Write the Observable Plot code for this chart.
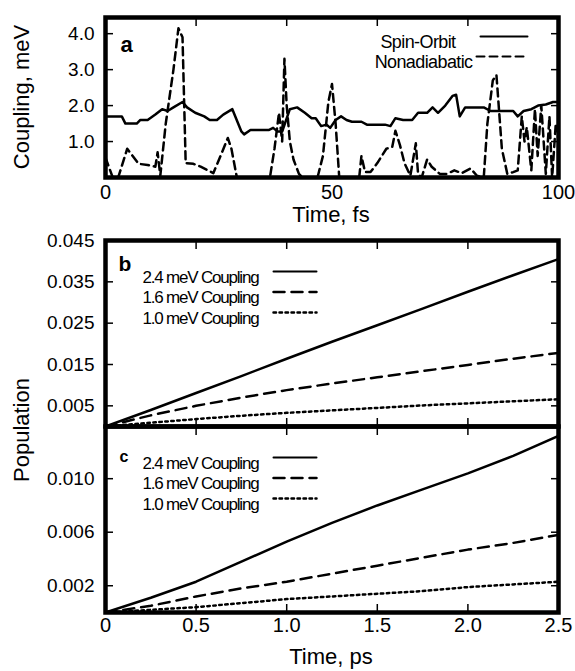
<!DOCTYPE html>
<html><head><meta charset="utf-8">
<script src="https://cdn.jsdelivr.net/npm/d3@7"></script>
<script src="https://cdn.jsdelivr.net/npm/@observablehq/plot@0.6"></script>
<style>
body{margin:0;background:#fff;}
#fig{position:relative;width:575px;height:671px;font-family:"Liberation Sans",Arial,sans-serif;color:#000;background:#fff;overflow:hidden;}
#fig svg{position:absolute;left:0;}
.t{position:absolute;white-space:nowrap;transform:translate(-50%,-50%);font-size:22px;}
.r{transform:translate(-50%,-50%) rotate(-90deg);}
</style></head><body><div id="fig"></div><script>
// ---- Panel a: couplings vs time (fs)
const soTime = [0,3.6,4.4,6.9,7.7,9.3,11,12.5,13.7,15,17,18,19.8,21.8,23,24.6,26,28,30,30.6,32,36,37,38,39,40.7,42.3,44,45.5,46.4,47.6,48.8,49.6,50.8,52,53.2,54.4,56.5,57.7,61.7,62.9,64,65.7,67.7,69,71,72.2,73.4,75,76.6,77.4,78.2,79.4,81,83.5,85,87.5,90,91,92.3,94,95.5,97.2,98.8,100];
const soValue = [1.7,1.7,1.5,1.5,1.6,1.6,1.75,1.9,1.85,1.95,2.1,1.95,1.8,1.7,1.6,1.6,1.75,1.9,1.28,1.2,1.32,1.32,1.38,1.28,1.28,1.9,1.95,1.8,1.65,1.65,1.43,1.47,1.38,1.6,1.7,1.6,1.55,1.55,1.47,1.47,1.43,1.65,1.6,1.6,1.8,1.8,1.95,1.8,2.0,2.27,2.3,1.7,1.95,1.95,1.95,1.85,1.85,1.85,1.7,1.85,1.9,2.0,2.03,2.1,2.1];
const naTime = [0,1.6,2.8,4.8,6,7.3,9.3,11,11.5,12.1,13.3,15,16.1,17,17.7,19.4,21,22.6,23.8,25.4,27,27.8,29,36.3,37.3,38.3,39,39.5,40,40.7,41.5,42.7,43.5,46.8,48,49.2,50,50.8,51.6,56,56.5,57.3,58.5,60,62,63.3,64,65,66,67.3,68.5,69,69.8,71,72,73.8,75.4,77,78.6,80.6,82,83.5,84.3,85.5,86.3,87.5,88.7,90,91,91.9,92.5,93,94,94.8,95.4,96.2,97.2,98,98.6,99.4,100];
const naValue = [0.55,0,0,0.8,0.6,0.38,0.35,0.3,0.7,0.05,1.5,3.0,4.15,3.9,0.4,0.38,0.3,0.2,0.12,0.6,1.1,0.8,0,0,0.8,1.8,1.0,3.3,2.0,1.0,0.5,0.1,0,0,0.6,2.1,2.6,1.5,0,0,0.6,0.15,0.15,0.4,0.8,0.85,1.3,0.9,0.4,0.05,0.95,0.1,0,0.5,0.3,0.1,0.1,0.2,0.12,0.25,0.05,0,1.5,2.7,2.85,0.8,0.1,0.15,0.2,1.7,1.0,1.4,0.2,1.9,0.6,2.0,0.1,1.7,0,1.5,1.2];
const aLegend = ["Spin-Orbit", "Nonadiabatic"];
const aYTicks = [1, 2, 3, 4];
const aXLabels = [0, 50, 100];
const aXTopTicks = [20, 40, 60, 80];

// ---- Panels b and c: population vs time (ps)
const timePs = [0,0.25,0.5,0.75,1.0,1.25,1.5,1.75,2.0,2.25,2.5];
const b24 = [0,0.0040,0.0081,0.0122,0.0164,0.0205,0.0245,0.0285,0.0326,0.0366,0.0405];
const b16 = [0,0.0027,0.0050,0.0070,0.0088,0.0104,0.0119,0.0134,0.0149,0.0164,0.0178];
const b10 = [0,0.0009,0.0018,0.0026,0.0033,0.0039,0.0045,0.0051,0.0056,0.0061,0.0066];
const c24 = [0,0.0011,0.0023,0.0038,0.0053,0.0067,0.0080,0.0092,0.0104,0.0117,0.0132];
const c16 = [0,0.0005,0.0012,0.0018,0.0023,0.0029,0.0035,0.0041,0.0047,0.0052,0.0058];
const c10 = [0,0.0002,0.0004,0.0007,0.0010,0.0012,0.0014,0.0016,0.0019,0.0021,0.0023];
const bcLegend = ["2.4 meV Coupling", "1.6 meV Coupling", "1.0 meV Coupling"];
const bYTicks = [0.005, 0.015, 0.025, 0.035, 0.045];
const cYTicks = [0.002, 0.006, 0.010];
const psTicks = [0, 0.5, 1.0, 1.5, 2.0, 2.5];
const psInner = [0.5, 1.0, 1.5, 2.0];

const FONT = "Liberation Sans, Arial, Helvetica, sans-serif";
const SOLID = null, DASH_A = "8,5", DASH = "11,7", DOT = "2.5,3.5";
const hline = {draw(ctx, l) { ctx.moveTo(0, 0); ctx.lineTo(l, 0); }};
const noText = () => "";

function toRows(xs, ys) { return xs.map((x, i) => ({x, y: ys[i]})); }

function frameTicks(xInner, yTicks, {bottom = true} = {}) {
  const m = [
    Plot.axisY(yTicks, {anchor: "left", tickSize: 8, dx: 8, tickFormat: noText, label: null, strokeWidth: 1.5}),
    Plot.axisY(yTicks, {anchor: "right", tickSize: 8, dx: -8, tickFormat: noText, label: null, strokeWidth: 1.5}),
    Plot.axisX(xInner, {anchor: "top", tickSize: 8, dy: 8, tickFormat: noText, label: null, strokeWidth: 1.5})
  ];
  if (bottom) m.push(Plot.axisX(xInner, {anchor: "bottom", tickSize: 8, dy: -8, tickFormat: noText, label: null, strokeWidth: 1.5}));
  return m;
}

function legend(labels, dashes, widths, rows, opt) {
  const marks = [];
  labels.forEach((lab, i) => {
    const r = rows[i];
    marks.push(Plot.text([lab], {text: d => d, frameAnchor: opt.anchor, dx: r.textDx, dy: opt.dy0 + i * opt.step,
      textAnchor: opt.textAnchor, fontSize: opt.fontSize, fill: "black"}));
    marks.push(Plot.vector([lab], {frameAnchor: opt.anchor, dx: r.lineDx, dy: opt.dy0 + i * opt.step + 1,
      length: r.lineLen, shape: hline, anchor: "start", stroke: "black", strokeWidth: widths[i],
      strokeDasharray: dashes[i]}));
  });
  return marks;
}

const fig = document.getElementById("fig");
function place(svg, top) { svg.style.top = top + "px"; fig.appendChild(svg); }
function tighten(svg, size, spacing) {
  svg.querySelectorAll(`g[font-size="${size}"]`).forEach(g => g.setAttribute("letter-spacing", spacing));
}
function htmlText(txt, x, y, rotate) {
  const d = document.createElement("div");
  d.className = "t" + (rotate ? " r" : "");
  d.textContent = txt; d.style.left = x + "px"; d.style.top = y + "px";
  fig.appendChild(d);
}

// Panel a
const plotA = Plot.plot({
  width: 575, height: 200,
  marginLeft: 105, marginRight: 17, marginTop: 17, marginBottom: 23,
  style: {fontFamily: FONT, fontSize: "19px", background: "transparent", overflow: "visible", color: "black"},
  x: {domain: [0, 100], label: null},
  y: {domain: [0, 4.45], label: null},
  marks: [
    Plot.line(toRows(soTime, soValue), {x: "x", y: "y", stroke: "black", strokeWidth: 2.5, clip: true}),
    Plot.line(toRows(naTime, naValue), {x: "x", y: "y", stroke: "black", strokeWidth: 2.5, strokeDasharray: DASH_A, clip: true}),
    Plot.axisY(aYTicks, {anchor: "left", tickSize: 0, tickPadding: 11, tickFormat: d3.format(".1f"), label: null, fontSize: 19}),
    Plot.axisX(aXLabels, {anchor: "bottom", tickSize: 0, tickPadding: 7, tickFormat: d => String(d), label: null, fontSize: 20}),
    ...frameTicks(aXTopTicks, aYTicks, {bottom: false}),
    ...legend(aLegend, [SOLID, DASH_A], [2, 2],
      [{textDx: -103, lineDx: -78, lineLen: 47}, {textDx: -86, lineDx: -82, lineLen: 51}],
      {anchor: "top-right", dy0: 18, step: 20, textAnchor: "end", fontSize: 18}),
    Plot.text(["a"], {text: d => d, frameAnchor: "top-left", dx: 15, dy: 19, fontSize: 22, fontWeight: "bold"}),
    Plot.frame({stroke: "black", strokeWidth: 4.5})
  ]
});
tighten(plotA, 18, "-0.6");
place(plotA, 0);

function popPanel(series, yDomain, yTicks, letter, letterOpt, topMargin, bottomMargin, height, showX) {
  const dashes = [SOLID, DASH, DOT];
  const widths = [2.5, 2.5, 2.5];
  const marks = series.map((s, i) => Plot.line(toRows(timePs, s), {x: "x", y: "y", stroke: "black",
    strokeWidth: widths[i], strokeDasharray: dashes[i], clip: true}));
  marks.push(Plot.axisY(yTicks, {anchor: "left", tickSize: 0, tickPadding: 11, tickFormat: d3.format(".3f"), label: null, fontSize: 19}));
  if (showX) marks.push(Plot.axisX(psTicks, {anchor: "bottom", tickSize: 0, tickPadding: 5,
    tickFormat: d => d === 0 ? "0" : d.toFixed(1), label: null, fontSize: 20}));
  marks.push(...frameTicks(psInner, yTicks));
  const row = {textDx: 37, lineDx: 168, lineLen: 43};
  marks.push(...legend(bcLegend, dashes, [2, 2.5, 2.5], [row, row, row],
    {anchor: "top-left", dy0: 30, step: 20.5, textAnchor: "start", fontSize: 17}));
  marks.push(Plot.text([letter], {text: d => d, frameAnchor: "top-left", dx: letterOpt.dx, dy: letterOpt.dy, fontSize: letterOpt.size, fontWeight: "bold"}));
  marks.push(Plot.frame({stroke: "black", strokeWidth: 4.5}));
  const svg = Plot.plot({
    width: 575, height,
    marginLeft: 105, marginRight: 17, marginTop: topMargin, marginBottom: bottomMargin,
    style: {fontFamily: FONT, fontSize: "19px", background: "transparent", overflow: "visible", color: "black"},
    x: {domain: [0, 2.5], label: null},
    y: {domain: yDomain, label: null},
    marks
  });
  tighten(svg, 17, "-1.2");
  return svg;
}

const plotB = popPanel([b24, b16, b10], [0, 0.045], bYTicks, "b", {dx: 13, dy: 16, size: 21}, 15, 4, 205, false);
place(plotB, 225);
const plotC = popPanel([c24, c16, c10], [0, 0.0139], cYTicks, "c", {dx: 14, dy: 24, size: 16}, 10, 40, 236, true);
place(plotC, 416);

htmlText("Coupling, meV", 22, 97, true);
htmlText("Time, fs", 331, 215, false);
htmlText("Population", 22, 430, true);
htmlText("Time, ps", 331, 657, false);
</script></body></html>
